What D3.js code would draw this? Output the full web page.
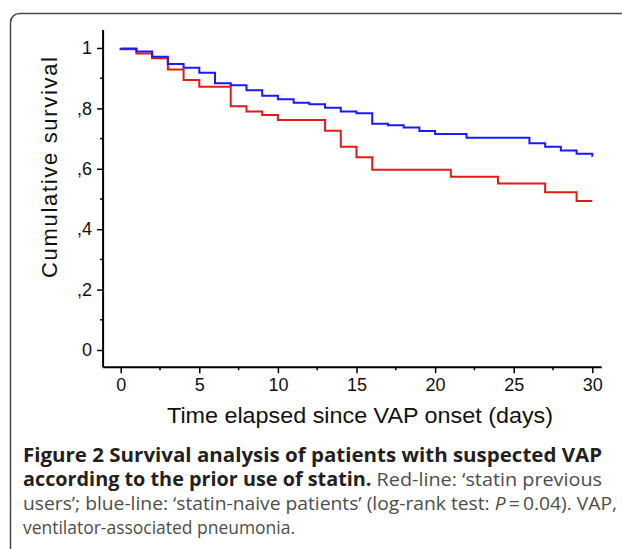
<!DOCTYPE html>
<html><head><meta charset="utf-8">
<script src="https://cdn.jsdelivr.net/npm/d3@7"></script>
<style>html,body{margin:0;padding:0;background:#fff;}svg{display:block;}</style>
</head><body>
<svg id="c" width="622" height="549"></svg>
<script>
// Step-change times (days) and survival levels after each time
const blueTimes = [0,1,2,3,4,5,6,7,8,9,10,11,12,13,14,15,16,17,18,19,20,22,26,27,28,29,30];
const blueSurv  = [0.998,0.988,0.971,0.947,0.935,0.918,0.883,0.877,0.860,0.842,0.830,0.819,0.814,0.802,0.790,0.784,0.749,0.744,0.737,0.725,0.715,0.703,0.685,0.673,0.661,0.650,0.640];
const redTimes  = [0,1,2,3,4,5,7,8,9,10,13,14,15,16,21,24,27,29,30];
const redSurv   = [0.996,0.982,0.966,0.929,0.894,0.872,0.807,0.790,0.778,0.762,0.726,0.673,0.638,0.597,0.574,0.551,0.522,0.493,0.493];
const xTicks = [0,5,10,15,20,25,30];
const xTickLabels = ["0","5","10","15","20","25","30"];
const yTicks = [0,0.2,0.4,0.6,0.8,1];
const yTickLabels = ["0",",2",",4",",6",",8","1"];
const yMinor = [0.1,0.3,0.5,0.7,0.9];
const xMinor = [2.5,7.5,12.5,17.5,22.5,27.5];

const svg = d3.select("#c");
const x = d3.scaleLinear().domain([0,30]).range([120.7,592.3]);
const y = d3.scaleLinear().domain([0,1]).range([350,48]);

// frame
svg.append("rect").attr("x",10.5).attr("y",13.5).attr("width",700).attr("height",600)
  .attr("rx",9).attr("fill","none").attr("stroke","#4a4a4a").attr("stroke-width",1.5);

const axisFont = "'Liberation Sans', Arial, Helvetica, sans-serif";

// y axis
const gy = svg.append("g").attr("transform",`translate(${x(-1.12)},0)`);
gy.call(d3.axisLeft(y).tickValues(yTicks).tickSize(6).tickPadding(5)
  .tickFormat((d,i)=>yTickLabels[i]));
gy.select(".domain").remove();
gy.selectAll(".tick line").attr("stroke","#000").attr("stroke-width",1.5);
gy.selectAll(".tick text").attr("font-family",axisFont).attr("font-size",18).attr("fill","#111");
gy.selectAll(".minor").data(yMinor).enter().append("line").attr("class","minor")
  .attr("x1",-3).attr("x2",0).attr("y1",d=>y(d)).attr("y2",d=>y(d)).attr("stroke","#000").attr("stroke-width",1.5);
gy.append("line").attr("x1",0).attr("x2",0).attr("y1",y(1.06)).attr("y2",y(-0.057))
  .attr("stroke","#000").attr("stroke-width",2);

// x axis
const gx = svg.append("g").attr("transform",`translate(0,${y(-0.057)})`);
gx.call(d3.axisBottom(x).tickValues(xTicks).tickSize(6).tickPadding(5)
  .tickFormat((d,i)=>xTickLabels[i]));
gx.select(".domain").remove();
gx.selectAll(".tick line").attr("stroke","#000").attr("stroke-width",1.5);
gx.selectAll(".tick text").attr("font-family",axisFont).attr("font-size",18).attr("fill","#111");
gx.selectAll(".minor").data(xMinor).enter().append("line").attr("class","minor")
  .attr("y1",0).attr("y2",3).attr("x1",d=>x(d)).attr("x2",d=>x(d)).attr("stroke","#000").attr("stroke-width",1.5);
gx.append("line").attr("y1",0).attr("y2",0).attr("x1",x(-1.12)).attr("x2",x(30.6))
  .attr("stroke","#000").attr("stroke-width",2);

// axis titles
svg.append("text").attr("transform",`translate(57,167.5) rotate(-90)`)
  .attr("text-anchor","middle").attr("font-family",axisFont).attr("font-size",22).attr("fill","#111")
  .attr("textLength",221).attr("lengthAdjust","spacing")
  .text("Cumulative  survival");
svg.append("text").attr("x",360).attr("y",423)
  .attr("text-anchor","middle").attr("font-family",axisFont).attr("font-size",22).attr("fill","#111")
  .attr("textLength",386).attr("lengthAdjust","spacingAndGlyphs")
  .text("Time elapsed since VAP onset (days)");

// curves
const line = d3.line().x(d=>x(d[0])).y(d=>y(d[1])).curve(d3.curveStepAfter);
function pts(times, surv){ const p=[[0,1]]; times.forEach((t,i)=>p.push([t,surv[i]])); return p; }
svg.append("path").attr("d",line(pts(redTimes,redSurv))).attr("fill","none")
  .attr("stroke","#e31a1c").attr("stroke-width",2);
svg.append("path").attr("d",line(pts(blueTimes,blueSurv))).attr("fill","none")
  .attr("stroke","#1a1aff").attr("stroke-width",2);

// caption
const capFont = "'Open Sans', 'Noto Sans', sans-serif";
const cap = [
  {parts:[{t:"Figure 2 Survival analysis of patients with suspected VAP",b:true}], w:579, y:462},
  {parts:[{t:"according to the prior use of statin.",b:true},{t:" Red-line: \u2018statin previous",b:false}], w:579, y:486},
  {parts:[{t:"users\u2019; blue-line: \u2018statin-naive patients\u2019 (log-rank test: ",b:false},{t:"P",b:false,i:true},{t:"\u2009=\u20090.04). VAP,",b:false}], w:594, y:510},
  {parts:[{t:"ventilator-associated pneumonia.",b:false}], w:272, y:534}
];
cap.forEach(l=>{
  const t = svg.append("text").attr("x",23).attr("y",l.y).attr("font-family",capFont).attr("font-size",19)
    .attr("textLength",l.w).attr("lengthAdjust","spacingAndGlyphs");
  l.parts.forEach(p=>{
    t.append("tspan").text(p.t).attr("font-weight",p.b?"bold":"normal")
      .attr("font-style",p.i?"italic":"normal").attr("fill",p.b?"#231f20":"#4d4d4d");
  });
});
</script>
</body></html>
